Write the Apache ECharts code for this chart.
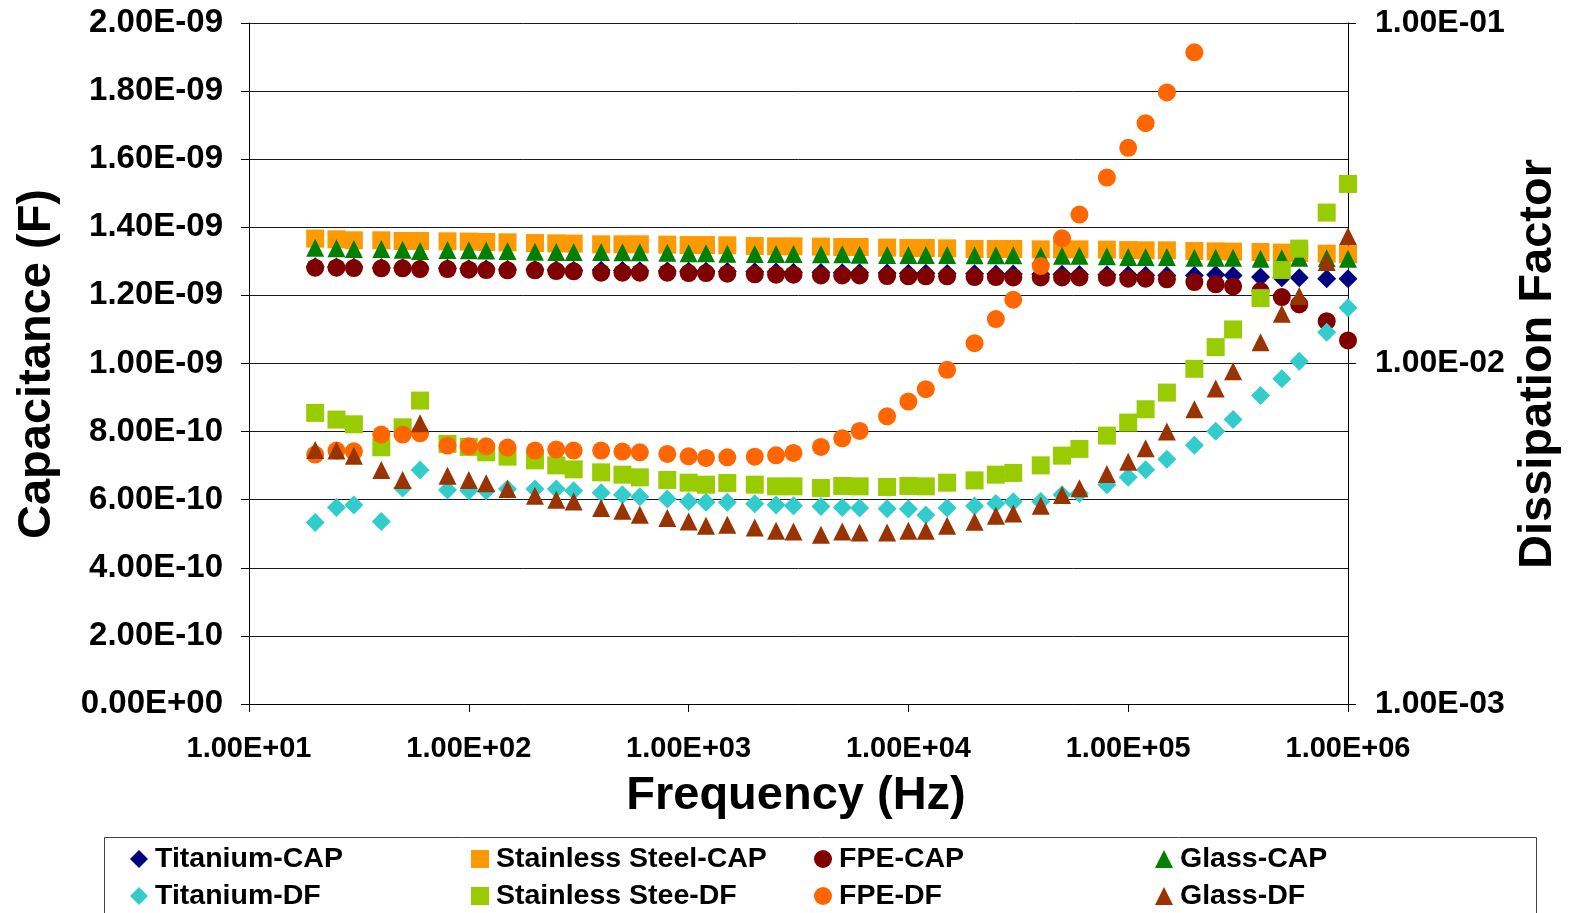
<!DOCTYPE html>
<html>
<head>
<meta charset="utf-8">
<script src="https://cdn.jsdelivr.net/npm/echarts@6/dist/echarts.min.js"></script>
<style>
  html, body { margin: 0; padding: 0; background: #ffffff; }
  #chart { width: 1570px; height: 913px; }
</style>
</head>
<body>
<div id="chart"></div>
<script>
// Measurement frequencies (Hz)
const frequency = [
  20, 25, 30, 40, 50, 60, 80,
  100, 120, 150, 200, 250, 300, 400, 500, 600, 800,
  1000, 1200, 1500, 2000, 2500, 3000, 4000, 5000, 6000, 8000,
  10000, 12000, 15000, 20000, 25000, 30000, 40000, 50000, 60000, 80000,
  100000, 120000, 150000, 200000, 250000, 300000, 400000, 500000, 600000, 800000,
  1000000
];

// Capacitance (F)
const titaniumCap = [
  1.2838e-9, 1.2832e-9, 1.2824e-9, 1.2815e-9, 1.2809e-9, 1.2800e-9, 1.2794e-9,
  1.2785e-9, 1.2776e-9, 1.2768e-9, 1.2759e-9, 1.2750e-9, 1.2741e-9, 1.2735e-9, 1.2729e-9, 1.2724e-9, 1.2718e-9,
  1.2712e-9, 1.2706e-9, 1.2700e-9, 1.2691e-9, 1.2685e-9, 1.2679e-9, 1.2674e-9, 1.2668e-9, 1.2665e-9, 1.2659e-9,
  1.2653e-9, 1.2647e-9, 1.2644e-9, 1.2638e-9, 1.2632e-9, 1.2629e-9, 1.2624e-9, 1.2618e-9, 1.2612e-9, 1.2606e-9,
  1.2600e-9, 1.2594e-9, 1.2588e-9, 1.2588e-9, 1.2603e-9, 1.2588e-9, 1.2544e-9, 1.2515e-9, 1.2521e-9, 1.2491e-9,
  1.2491e-9
];
const stainlessCap = [
  1.3668e-9, 1.3647e-9, 1.3618e-9, 1.3618e-9, 1.3597e-9, 1.3597e-9, 1.3588e-9,
  1.3579e-9, 1.3568e-9, 1.3559e-9, 1.3538e-9, 1.3529e-9, 1.3521e-9, 1.3500e-9, 1.3500e-9, 1.3500e-9, 1.3491e-9,
  1.3479e-9, 1.3479e-9, 1.3471e-9, 1.3450e-9, 1.3441e-9, 1.3441e-9, 1.3432e-9, 1.3421e-9, 1.3421e-9, 1.3403e-9,
  1.3391e-9, 1.3391e-9, 1.3382e-9, 1.3362e-9, 1.3362e-9, 1.3362e-9, 1.3353e-9, 1.3353e-9, 1.3353e-9, 1.3344e-9,
  1.3332e-9, 1.3324e-9, 1.3324e-9, 1.3303e-9, 1.3294e-9, 1.3285e-9, 1.3274e-9, 1.3256e-9, 1.3245e-9, 1.3226e-9,
  1.3206e-9
];
const fpeCap = [
  1.2815e-9, 1.2815e-9, 1.2803e-9, 1.2794e-9, 1.2794e-9, 1.2774e-9, 1.2774e-9,
  1.2756e-9, 1.2744e-9, 1.2735e-9, 1.2735e-9, 1.2715e-9, 1.2706e-9, 1.2668e-9, 1.2668e-9, 1.2668e-9, 1.2668e-9,
  1.2656e-9, 1.2656e-9, 1.2638e-9, 1.2618e-9, 1.2609e-9, 1.2609e-9, 1.2588e-9, 1.2588e-9, 1.2588e-9, 1.2568e-9,
  1.2559e-9, 1.2559e-9, 1.2559e-9, 1.2538e-9, 1.2538e-9, 1.2529e-9, 1.2529e-9, 1.2529e-9, 1.2529e-9, 1.2521e-9,
  1.2491e-9, 1.2491e-9, 1.2471e-9, 1.2391e-9, 1.2324e-9, 1.2265e-9, 1.2126e-9, 1.1950e-9, 1.1735e-9, 1.1244e-9,
  1.0676e-9
];
const glassCap = [
  1.3403e-9, 1.3382e-9, 1.3362e-9, 1.3362e-9, 1.3344e-9, 1.3303e-9, 1.3332e-9,
  1.3324e-9, 1.3315e-9, 1.3303e-9, 1.3285e-9, 1.3274e-9, 1.3274e-9, 1.3274e-9, 1.3265e-9, 1.3265e-9, 1.3256e-9,
  1.3235e-9, 1.3235e-9, 1.3226e-9, 1.3215e-9, 1.3215e-9, 1.3215e-9, 1.3206e-9, 1.3206e-9, 1.3197e-9, 1.3185e-9,
  1.3185e-9, 1.3185e-9, 1.3185e-9, 1.3176e-9, 1.3176e-9, 1.3176e-9, 1.3168e-9, 1.3168e-9, 1.3168e-9, 1.3147e-9,
  1.3126e-9, 1.3126e-9, 1.3126e-9, 1.3109e-9, 1.3109e-9, 1.3109e-9, 1.3079e-9, 1.3088e-9, 1.3109e-9, 1.3088e-9,
  1.3079e-9
];

// Dissipation factor (dimensionless)
const titaniumDF = [
  3.414e-3, 3.779e-3, 3.841e-3, 3.437e-3, 4.310e-3, 4.868e-3, 4.252e-3,
  4.232e-3, 4.232e-3, 4.281e-3, 4.281e-3, 4.281e-3, 4.232e-3, 4.175e-3, 4.119e-3, 4.063e-3, 4.001e-3,
  3.936e-3, 3.910e-3, 3.910e-3, 3.875e-3, 3.841e-3, 3.823e-3, 3.805e-3, 3.779e-3, 3.763e-3, 3.745e-3,
  3.738e-3, 3.589e-3, 3.763e-3, 3.815e-3, 3.883e-3, 3.928e-3, 3.936e-3, 4.119e-3, 4.155e-3, 4.407e-3,
  4.630e-3, 4.878e-3, 5.230e-3, 5.751e-3, 6.323e-3, 6.843e-3, 8.050e-3, 9.016e-3, 1.016e-2, 1.236e-2,
  1.458e-2
];
const stainlessDF = [
  7.161e-3, 6.843e-3, 6.629e-3, 5.674e-3, 6.496e-3, 7.784e-3, 5.806e-3,
  5.689e-3, 5.486e-3, 5.327e-3, 5.195e-3, 5.022e-3, 4.888e-3, 4.790e-3, 4.716e-3, 4.630e-3, 4.550e-3,
  4.467e-3, 4.407e-3, 4.458e-3, 4.407e-3, 4.357e-3, 4.357e-3, 4.310e-3, 4.369e-3, 4.357e-3, 4.339e-3,
  4.369e-3, 4.357e-3, 4.467e-3, 4.537e-3, 4.716e-3, 4.771e-3, 5.022e-3, 5.363e-3, 5.612e-3, 6.141e-3,
  6.706e-3, 7.339e-3, 8.215e-3, 9.647e-3, 1.117e-2, 1.259e-2, 1.556e-2, 1.881e-2, 2.175e-2, 2.775e-2,
  3.368e-2
];
const fpeDF = [
  5.400e-3, 5.549e-3, 5.523e-3, 6.183e-3, 6.183e-3, 6.237e-3, 5.739e-3,
  5.712e-3, 5.712e-3, 5.662e-3, 5.549e-3, 5.586e-3, 5.549e-3, 5.549e-3, 5.512e-3, 5.486e-3, 5.426e-3,
  5.338e-3, 5.281e-3, 5.302e-3, 5.327e-3, 5.375e-3, 5.463e-3, 5.689e-3, 6.030e-3, 6.340e-3, 6.998e-3,
  7.731e-3, 8.405e-3, 9.582e-3, 1.147e-2, 1.350e-2, 1.539e-2, 1.933e-2, 2.332e-2, 2.737e-2, 3.517e-2,
  4.298e-2, 5.080e-2, 6.254e-2, 8.200e-2
];
const glassDF = [
  5.575e-3, 5.549e-3, 5.363e-3, 4.868e-3, 4.550e-3, 6.674e-3, 4.684e-3,
  4.550e-3, 4.446e-3, 4.281e-3, 4.091e-3, 3.981e-3, 3.936e-3, 3.763e-3, 3.695e-3, 3.596e-3, 3.517e-3,
  3.437e-3, 3.338e-3, 3.361e-3, 3.300e-3, 3.227e-3, 3.211e-3, 3.140e-3, 3.211e-3, 3.190e-3, 3.190e-3,
  3.227e-3, 3.227e-3, 3.338e-3, 3.430e-3, 3.572e-3, 3.628e-3, 3.823e-3, 4.111e-3, 4.298e-3, 4.738e-3,
  5.149e-3, 5.636e-3, 6.310e-3, 7.339e-3, 8.445e-3, 9.492e-3, 1.155e-2, 1.400e-2, 1.578e-2, 1.986e-2,
  2.363e-2
];

const seriesNames = [
  'Titanium-CAP', 'Stainless Steel-CAP', 'FPE-CAP', 'Glass-CAP',
  'Titanium-DF', 'Stainless Stee-DF', 'FPE-DF', 'Glass-DF'
];

const FONT = '"Liberation Sans", Arial, Helvetica, sans-serif';

// Scientific notation with a signed two-digit exponent, e.g. 1.20E-09
function sci(v) {
  const s = Number(v).toExponential(2);
  const parts = s.split('e');
  const n = parseInt(parts[1], 10);
  const a = Math.abs(n);
  return parts[0] + 'E' + (n < 0 ? '-' : '+') + (a < 10 ? '0' : '') + a;
}

function pairs(values) {
  const out = [];
  values.forEach(function (v, i) {
    if (v != null) out.push([frequency[i], v]);
  });
  return out;
}

const styles = [
  { values: titaniumCap, axis: 0, symbol: 'diamond',  color: '#000080', size: 19 },
  { values: stainlessCap, axis: 0, symbol: 'rect',    color: '#FF9900', size: 18 },
  { values: fpeCap,      axis: 0, symbol: 'circle',   color: '#800000', size: 18 },
  { values: glassCap,    axis: 0, symbol: 'triangle', color: '#008000', size: 18 },
  { values: titaniumDF,  axis: 1, symbol: 'diamond',  color: '#33CCCC', size: 19 },
  { values: stainlessDF, axis: 1, symbol: 'rect',     color: '#99CC00', size: 18 },
  { values: fpeDF,       axis: 1, symbol: 'circle',   color: '#FF6600', size: 18 },
  { values: glassDF,     axis: 1, symbol: 'triangle', color: '#993300', size: 18 }
];

const series = styles.map(function (s, i) {
  return {
    name: seriesNames[i],
    type: 'scatter',
    yAxisIndex: s.axis,
    symbol: s.symbol,
    symbolSize: s.size,
    itemStyle: { color: s.color, opacity: 1 },
    emphasis: { disabled: true },
    data: pairs(s.values)
  };
});

const labelStyle = { fontFamily: FONT, fontWeight: 'bold', color: '#000' };
const axisLine = { show: true, lineStyle: { color: '#000', width: 1 } };
const axisTick = { show: true, inside: false, length: 8, lineStyle: { color: '#000', width: 1 } };

// Legend: four columns, each holding the CAP and DF entries of one material
const legendColumns = [130, 471, 814, 1155];
const legendIcons = ['diamond', 'rect', 'circle', 'triangle'];
const legends = legendColumns.map(function (left, c) {
  return {
    orient: 'vertical',
    left: left,
    top: 844,
    padding: 0,
    itemGap: 7,
    itemWidth: 18,
    itemHeight: 18,
    selectedMode: false,
    data: [
      { name: seriesNames[c], icon: legendIcons[c] },
      { name: seriesNames[c + 4], icon: legendIcons[c] }
    ],
    textStyle: Object.assign({ fontSize: 28.5, lineHeight: 30, padding: [0, 0, 0, 2] }, labelStyle)
  };
});

const option = {
  animation: false,
  backgroundColor: '#ffffff',
  grid: { left: 249, right: 222, top: 23, bottom: 209, containLabel: false },
  legend: legends,
  xAxis: {
    type: 'log',
    logBase: 10,
    min: 10,
    max: 1e6,
    axisLine: axisLine,
    axisTick: axisTick,
    minorTick: { show: false },
    splitLine: { show: false },
    axisLabel: Object.assign({ formatter: sci, fontSize: 29, margin: 30 }, labelStyle)
  },
  yAxis: [
    {
      type: 'value',
      position: 'left',
      min: 0,
      max: 2e-9,
      interval: 2e-10,
      axisLine: axisLine,
      axisTick: axisTick,
      splitLine: { show: true, lineStyle: { color: '#1a1a1a', width: 1 } },
      axisLabel: Object.assign({ formatter: sci, fontSize: 33, margin: 26 }, labelStyle)
    },
    {
      type: 'log',
      logBase: 10,
      position: 'right',
      min: 1e-3,
      max: 1e-1,
      axisLine: axisLine,
      axisTick: axisTick,
      minorTick: { show: false },
      splitLine: { show: false },
      axisLabel: Object.assign({ formatter: sci, fontSize: 32, margin: 27 }, labelStyle)
    }
  ],
  graphic: [
    {
      type: 'rect',
      z: -10,
      shape: { x: 104.5, y: 837.5, width: 1432, height: 120 },
      style: { fill: 'none', stroke: '#404040', lineWidth: 1 }
    },
    {
      type: 'text',
      x: 37, y: 364,
      rotation: Math.PI / 2,
      style: {
        text: 'Capacitance (F)',
        font: 'bold 47px ' + FONT,
        fill: '#000',
        textAlign: 'center',
        textVerticalAlign: 'middle'
      }
    },
    {
      type: 'text',
      x: 1538, y: 364,
      rotation: Math.PI / 2,
      style: {
        text: 'Dissipation Factor',
        font: 'bold 47px ' + FONT,
        fill: '#000',
        textAlign: 'center',
        textVerticalAlign: 'middle'
      }
    },
    {
      type: 'text',
      x: 796, y: 796,
      style: {
        text: 'Frequency (Hz)',
        font: 'bold 47px ' + FONT,
        fill: '#000',
        textAlign: 'center',
        textVerticalAlign: 'middle'
      }
    }
  ],
  series: series
};

const chart = echarts.init(document.getElementById('chart'), null, { renderer: 'canvas' });
chart.setOption(option);
</script>
</body>
</html>
